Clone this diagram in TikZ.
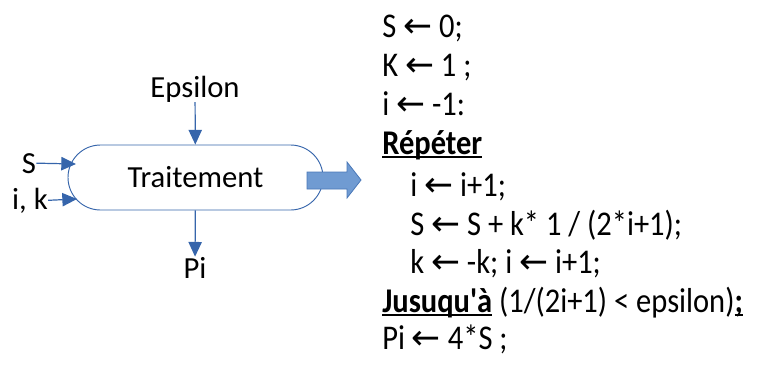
\documentclass[tikz,border=0pt]{standalone}
\usepackage{fontspec}
\setmainfont{Carlito}
\newfontfamily\algofont[FakeStretch=0.88,Ligatures=TeXOff]{Carlito}
\newfontfamily\arrowfont{DejaVu Sans}
\usetikzlibrary{arrows.meta}
\definecolor{flowblue}{RGB}{54,101,171}
\definecolor{blockfill}{RGB}{112,155,210}
\definecolor{blockline}{RGB}{74,120,184}
\newcommand{\fleche}{{\arrowfont ←}}
\newcommand{\souligne}[1]{\setbox0\hbox{#1}\rlap{\rule[-3.2pt]{\wd0}{1.4pt}}\box0\relax}

\begin{document}
\begin{tikzpicture}[
x=0.75pt, y=-0.75pt,
every node/.style={
inner sep=0pt,
font=\fontsize{23}{27}\selectfont
},
flow/.style={
draw=flowblue,
line width=0.9pt,
-{Triangle[length=11pt,width=10pt]}
},
algo/.style={
anchor=base west,
font=\algofont\fontsize{26}{30}\selectfont
}
]
\useasboundingbox (0,0) rectangle (762,365);

% process block
\node[draw=flowblue, line width=0.7pt, rounded corners=24.375pt,
minimum width=191.25pt, minimum height=48.75pt] (trt) at (195.5,177.5)
{Traitement};

\node[anchor=base] (eps) at (195,97) {Epsilon};
\node[anchor=base] (piout) at (195,278) {Pi};
\node[anchor=base] (sin) at (29,173) {S};
\node[anchor=base] (ikin) at (30,209) {i, k};

\coordinate (sdock) at (76,164);
\coordinate (ikdock) at (77,199);

\draw[flow] (eps) -- (trt);
\draw[flow] (trt) -- (piout);
\draw[flow] (sin.east) -- (sdock);
\draw[flow] (ikin.east) -- (ikdock);

% big arrow
\filldraw[fill=blockfill, draw=blockline, line width=0.6pt]
(307,172) -- (347,172) -- (347,162) -- (361,180)
-- (347,198) -- (347,189) -- (307,189) -- cycle;

% algorithm
\node[algo] (s0) at (382,37) {S \fleche{} 0;};
\node[algo] (k0) at (382,76) {K \fleche{} 1 ;};
\node[algo] (i0) at (382,115) {i \fleche{} -1:};
\node[algo] (rep) at (382,154) {\souligne{\bfseries Répéter}};
\node[algo] (inc) at (410,196) {i \fleche{} i+1;};
\node[algo] (sum) at (410,235) {S \fleche{} S + k* 1 / (2*i+1);};
\node[algo] (sgn) at (410,273) {k \fleche{} -k; i \fleche{} i+1;};
\node[algo] (until) at (382,312)
{\souligne{\bfseries Jusuqu'à} (1/(2i+1) < epsilon)\souligne{\bfseries ;}};
\node[algo] (pi) at (382,349) {Pi \fleche{} 4*S ;};

\end{tikzpicture}
\end{document}
